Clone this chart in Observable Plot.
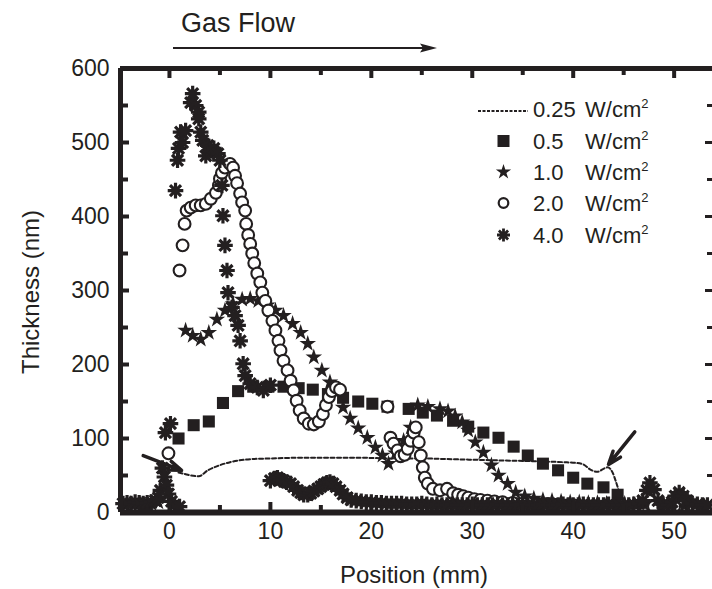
<!DOCTYPE html>
<html><head><meta charset="utf-8">
<script src="https://cdn.jsdelivr.net/npm/d3@7"></script>
<script src="https://cdn.jsdelivr.net/npm/@observablehq/plot@0.6"></script>
<style>
body{margin:0;background:#fff;overflow:hidden}
#chart{width:712px;height:589px}
</style></head><body><div id="chart"></div>
<script>
// ---- axes ----
const xDomain = [-4.85, 53.8];
const yDomain = [0, 600];
const xMajorTicks = [0, 10, 20, 30, 40, 50];
const xMinorTicks = [5, 15, 25, 35, 45];
const yMajorTicks = [0, 100, 200, 300, 400, 500, 600];
const yMinorTicks = [50, 150, 250, 350, 450, 550];
const xTitle = "Position (mm)";
const yTitle = "Thickness (nm)";
const flowLabel = "Gas Flow";

// ---- legend ----
const seriesPower = ["0.25", "0.5", "1.0", "2.0", "4.0"];
const unitLabel = "W/cm";

// ---- 0.25 W/cm2 (dashed line) ----
const p025X = [0.9, 1.5, 2.1, 2.9, 3.8, 4.8, 6.0, 8.0, 10, 13, 16, 19, 22, 25, 28, 31, 34, 37, 39, 40.3, 41.0, 41.7, 42.4, 43.0, 43.4, 43.9, 44.2, 44.5];
const p025Y = [54, 52, 50, 49, 57, 63, 68, 72, 73, 74, 74, 74, 73, 73, 72, 71, 70, 69, 68, 67, 65, 58, 55, 59, 61, 54, 43, 30];

// ---- 0.5 W/cm2 (squares) ----
const p05X = [0.9, 2.4, 3.9, 5.3, 6.8, 8.3, 9.8, 11.3, 12.8, 14.2, 15.7, 17.2, 18.7, 20.1, 21.6, 23.7, 25.1, 26.5, 28.1, 29.6, 31.1, 32.6, 34.1, 35.5, 37.0, 38.5, 40.0, 41.4, 43.0, 44.4, -2.3];
const p05Y = [100, 118, 123, 148, 164, 170, 170, 170, 168, 166, 160, 155, 150, 147, 143, 140, 135, 131, 124, 116, 108, 101, 89, 77, 66, 57, 47, 39, 34, 24, 10];

// ---- 1.0 W/cm2 (stars) ----
const p10X = [1.6, 2.3, 3.1, 3.9, 4.7, 5.5, 6.3, 7.2, 8.0, 8.8, 9.7, 10.5, 11.3, 12.2, 13.0, 13.7, 14.3, 15.1, 15.9, 16.6, 17.2, 17.9, 18.7, 19.6, 20.4, 21.1, 21.7, 22.4, 23.2, 23.9, 24.6, 25.6, 26.8, 27.6, 28.3, 29.0, 29.6, 30.3, 31.1, 31.9, 32.6, 33.5, 34.3, 35.2, 36.1, 37.0, 37.9, 38.8, 39.7, 40.6, 41.5, 42.4, 43.3, 44.2, 45.1, 46.0, 47.0, 48.0, 49.0, 50.0, 51.0, 52.0, 53.0, -4.3, -3.4, -2.6, -1.8, -1.1];
const p10Y = [246, 239, 234, 243, 261, 273, 282, 288, 289, 286, 280, 273, 266, 255, 243, 228, 210, 192, 176, 162, 142, 127, 114, 101, 88, 77, 66, 80, 97, 115, 145, 143, 140, 137, 130, 122, 111, 95, 81, 64, 50, 39, 27, 22, 19, 17, 16, 15, 14, 14, 13, 13, 12, 12, 12, 11, 11, 10, 10, 10, 9, 9, 9, 10, 11, 10, 12, 14];

// ---- 2.0 W/cm2 (open circles) ----
const p20X = [-0.1, 1.0, 1.3, 1.5, 1.7, 2.1, 2.6, 3.1, 3.6, 4.1, 4.6, 4.9, 5.0, 5.2, 5.5, 6.0, 6.3, 6.5, 6.7, 7.0, 7.2, 7.5, 7.6, 7.8, 8.0, 8.2, 8.4, 8.7, 9.0, 9.2, 9.5, 9.8, 10.2, 10.5, 10.8, 11.0, 11.3, 11.7, 12.0, 12.3, 12.6, 12.9, 13.3, 13.8, 14.3, 14.8, 15.2, 15.5, 15.8, 16.1, 16.5, 16.9, 21.6, 21.9, 22.2, 22.6, 22.9, 23.3, 23.6, 23.9, 24.2, 24.4, 24.7, 24.9, 25.1, 25.3, 25.6, 26.1, 26.8, 27.5, 28.1, 28.6, 29.1, 29.6, 30.2, 30.8, 31.5, 32.2, 33.0, 34.0, 35.0, 36.5, 38.0, 40.0, 42.0, 44.0, 46.0, 48.0, 50.0, 52.0];
const p20Y = [80, 327, 361, 390, 408, 412, 415, 415, 417, 424, 432, 442, 451, 459, 466, 471, 466, 455, 445, 431, 419, 408, 390, 375, 363, 350, 337, 323, 311, 297, 286, 273, 259, 246, 232, 219, 205, 192, 178, 165, 151, 138, 127, 120, 119, 123, 133, 145, 156, 164, 169, 166, 143, 101, 93, 84, 76, 78, 86, 97, 108, 115, 95, 77, 61, 47, 39, 32, 30, 32, 26, 24, 22, 20, 18, 17, 16, 15, 14, 13, 12, 11, 10, 10, 9, 9, 8, 8, 8, 8];

// ---- 4.0 W/cm2 (asterisks) ----
const p40X = [
  -4.6, -4.2, -3.8, -3.4, -3.0, -2.6, -2.2, -1.8, -1.4, -1.1, -0.9, -0.7, -0.5, -0.3, -0.1, 0.2, 0.5, 1.0,
  -0.4, 0.1, 0.6, 0.8, 0.9, 1.1, 1.3, 1.6, 2.1, 2.3, 2.6, 2.9, 2.9, 3.1, 3.3, 3.6, 3.8, 4.1, 4.4, 4.8, 5.0,
  5.2, 5.3, 5.5, 5.7, 5.8, 6.2, 6.5, 6.8, 7.0, 7.3, 7.5, 8.0, 8.7, 9.3, 10.0,
  10.0, 10.4, 10.7, 11.0, 11.3, 11.6, 12.0, 12.3, 12.7, 13.0, 13.3, 13.7, 14.0, 14.3, 14.7, 15.0, 15.3, 15.6, 15.9, 16.2, 16.5, 16.9, 17.2, 17.6,
  18.0, 18.5, 19.0, 19.5, 20.0, 20.5, 21.0, 21.5, 22.0, 22.5, 23.0, 23.5, 24.0, 24.5, 25.0, 25.5, 26.0, 26.5, 27.0, 27.5,
  28.0, 28.5, 29.0, 29.5, 30.0, 30.5, 31.0, 31.5, 32.0, 32.5, 33.0, 33.5, 34.0, 34.5, 35.0, 35.5, 36.0, 36.5, 37.0, 37.5,
  38.0, 38.5, 39.0, 39.5, 40.0, 40.5, 41.0, 41.5, 42.0, 42.5, 43.0, 43.5, 44.0, 44.5, 45.0, 45.5, 46.0,
  46.5, 46.9, 47.3, 47.6, 48.0, 48.4, 48.9, 49.4, 49.8, 50.1, 50.5, 50.9, 51.3, 51.8, 52.3, 52.8, 53.3];
const p40Y = [
  12, 13, 12, 14, 13, 12, 13, 14, 16, 20, 30, 60, 48, 37, 25, 15, 10, 8,
  108, 120, 435, 476, 492, 514, 500, 516, 554, 566, 550, 541, 532, 514, 503, 482, 496, 489, 492, 485, 476,
  442, 401, 361, 327, 297, 277, 266, 253, 232, 201, 185, 174, 169, 165, 172,
  43, 46, 47, 44, 43, 41, 39, 35, 30, 27, 24, 24, 26, 29, 32, 35, 38, 40, 41, 39, 35, 30, 25, 20,
  17, 16, 15, 14, 14, 13, 13, 12, 12, 12, 12, 11, 11, 11, 12, 11, 10, 11, 10, 10,
  11, 10, 10, 10, 11, 10, 10, 10, 10, 11, 10, 10, 10, 10, 11, 10, 10, 10, 11, 10,
  10, 10, 11, 10, 10, 10, 11, 10, 10, 10, 10, 11, 10, 10, 10, 10, 11,
  12, 16, 30, 40, 31, 16, 11, 10, 14, 22, 27, 22, 16, 12, 11, 10, 10];

// ---- annotation arrows (data units) ----
const arrowFromX = [-2.6, 46.1];
const arrowFromY = [77, 109];
const arrowToX = [1.2, 43.5];
const arrowToY = [57, 65];

const zip = (xs, ys) => xs.map((x, i) => ({x, y: ys[i]}));
const d025 = zip(p025X, p025Y);
const d05 = zip(p05X, p05Y);
const d10 = zip(p10X, p10Y);
const d20 = zip(p20X, p20Y);
const d40 = zip(p40X, p40Y);
const arrows = arrowFromX.map((x, i) => ({x1: x, y1: arrowFromY[i], x2: arrowToX[i], y2: arrowToY[i]}));

const asteriskSymbol = {
  draw(ctx, size) {
    const r = Math.sqrt(size / Math.PI);
    for (let i = 0; i < 4; i++) {
      const a = i * Math.PI / 4, dx = r * Math.cos(a), dy = r * Math.sin(a);
      ctx.moveTo(-dx, -dy); ctx.lineTo(dx, dy);
    }
  }
};

const INK = "#231f20";
const W = 712, H = 589, mL = 120, mR = 0, mT = 68, mB = 77;
const fW = W - mL - mR, fH = H - mT - mB;
const FONT = "'Liberation Sans', Arial, Helvetica, sans-serif";

const chart = Plot.plot({
  width: W, height: H,
  marginLeft: mL, marginRight: mR, marginTop: mT, marginBottom: mB,
  style: {fontFamily: FONT, background: "white", color: INK, overflow: "visible"},
  x: {domain: xDomain},
  y: {domain: yDomain},
  marks: [
    Plot.line(d025, {x: "x", y: "y", stroke: INK, strokeWidth: 2, strokeDasharray: "4,2.5", curve: "monotone-x"}),
    Plot.dot(d05, {x: "x", y: "y", symbol: "square", r: 6.8, fill: INK, stroke: "none"}),
    Plot.dot(d10, {x: "x", y: "y", symbol: "star", r: 5.2, fill: INK, stroke: "none"}),
    Plot.dot(d20, {x: "x", y: "y", symbol: "circle", r: 5.9, fill: "white", stroke: INK, strokeWidth: 2.1}),
    Plot.dot(d40, {x: "x", y: "y", symbol: asteriskSymbol, r: 7.8, fill: "none", stroke: INK, strokeWidth: 3.2}),
    Plot.arrow(arrows, {x1: "x1", y1: "y1", x2: "x2", y2: "y2", stroke: INK, strokeWidth: 3.5, headLength: 12, headAngle: 40}),
    // frame (top, left, bottom)
    Plot.ruleY([yDomain[0]], {stroke: INK, strokeWidth: 6}),
    Plot.ruleY([yDomain[1]], {stroke: INK, strokeWidth: 5}),
    Plot.ruleX([xDomain[0]], {stroke: INK, strokeWidth: 5}),
    // inward ticks
    Plot.ruleX(xMajorTicks, {insetTop: fH - 10, stroke: INK, strokeWidth: 4}),
    Plot.ruleX(xMinorTicks, {insetTop: fH - 7, stroke: INK, strokeWidth: 4}),
    Plot.ruleX(xMajorTicks, {insetBottom: fH - 10, stroke: INK, strokeWidth: 4}),
    Plot.ruleX(xMinorTicks, {insetBottom: fH - 7, stroke: INK, strokeWidth: 4}),
    Plot.ruleY(yMajorTicks, {insetRight: fW - 9, stroke: INK, strokeWidth: 4}),
    Plot.ruleY(yMinorTicks, {insetRight: fW - 8, stroke: INK, strokeWidth: 4}),
    Plot.ruleY(yMajorTicks, {insetLeft: fW - 7, stroke: INK, strokeWidth: 3}),
    Plot.ruleY(yMinorTicks, {insetLeft: fW - 5, stroke: INK, strokeWidth: 3}),
    Plot.axisX(xMajorTicks, {tickSize: 0, tickPadding: 10, fontSize: 23, label: null, fill: INK}),
    Plot.axisY(yMajorTicks, {tickSize: 0, tickPadding: 11, fontSize: 23, label: null, fill: INK})
  ]
});
document.getElementById("chart").append(chart);

// ---- titles, gas-flow arrow and legend ----
const svg = d3.select(chart);
svg.append("text").attr("x", 414).attr("y", 583).attr("text-anchor", "middle")
  .attr("font-size", 24).attr("fill", INK).attr("font-family", FONT).text(xTitle);
svg.append("text").attr("transform", "translate(39,292) rotate(-90)").attr("text-anchor", "middle")
  .attr("font-size", 24).attr("fill", INK).attr("font-family", FONT).text(yTitle);

svg.append("text").attr("x", 181).attr("y", 32).attr("font-size", 27).attr("text-anchor", "start")
  .attr("fill", INK).attr("font-family", FONT).text(flowLabel);
svg.append("line").attr("x1", 173).attr("x2", 426).attr("y1", 48).attr("y2", 48)
  .attr("stroke", INK).attr("stroke-width", 2);
svg.append("path").attr("d", "M437,48 L420,43.5 L423,48 L420,52.5 Z").attr("fill", INK);

const lg = svg.append("g").attr("font-family", FONT).attr("fill", INK).attr("text-anchor", "start");
const rowY = [109, 141, 172, 203, 235];
const symX = 503.5;
lg.append("line").attr("x1", 478).attr("x2", 528).attr("y1", rowY[0] + 2).attr("y2", rowY[0] + 2)
  .attr("stroke", INK).attr("stroke-width", 2).attr("stroke-dasharray", "3,1.5");
lg.append("path").attr("transform", `translate(${symX},${rowY[1]})`)
  .attr("d", d3.symbol(d3.symbolSquare, 144)()).attr("fill", INK);
lg.append("path").attr("transform", `translate(${symX},${rowY[2]})`)
  .attr("d", d3.symbol(d3.symbolStar, 4.8 * 4.8 * Math.PI)()).attr("fill", INK);
lg.append("path").attr("transform", `translate(${symX},${rowY[3]})`)
  .attr("d", d3.symbol(d3.symbolCircle, 4.8 * 4.8 * Math.PI)()).attr("fill", "white").attr("stroke", INK).attr("stroke-width", 2.2);
lg.append("path").attr("transform", `translate(${symX},${rowY[4]})`)
  .attr("d", d3.symbol(asteriskSymbol, 6.5 * 6.5 * Math.PI)()).attr("fill", "none").attr("stroke", INK).attr("stroke-width", 2.8);
seriesPower.forEach((p, i) => {
  lg.append("text").attr("x", 533).attr("y", rowY[i] + 8).attr("font-size", 22).text(p);
  const t = lg.append("text").attr("x", 585).attr("y", rowY[i] + 8).attr("font-size", 22);
  t.append("tspan").text(unitLabel);
  t.append("tspan").attr("dy", -9).attr("font-size", 13).text("2");
});
</script>
</body></html>
